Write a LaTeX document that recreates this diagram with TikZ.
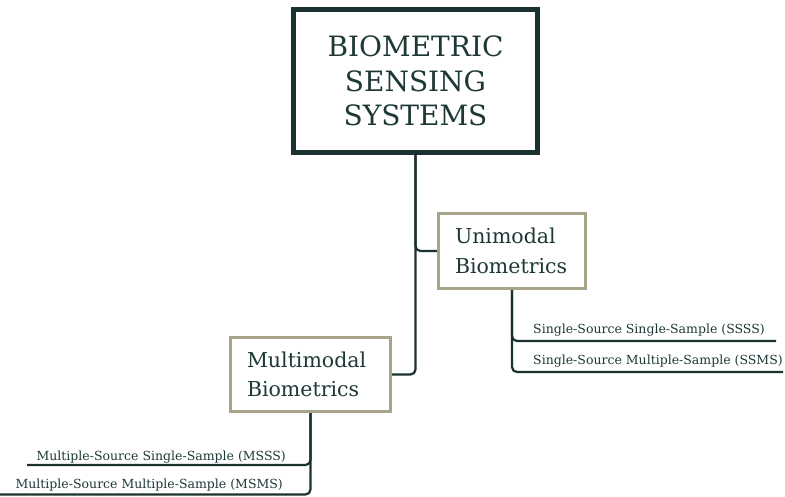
\documentclass[tikz,border=0pt]{standalone}
\usepackage{fontspec}
\setmainfont{DejaVu Serif}
\definecolor{inkteal}{HTML}{1D3836}
\definecolor{linedark}{HTML}{1B312F}
\definecolor{khaki}{HTML}{A8A48A}
\tikzset{
  rootbox/.style={draw=linedark, line width=5pt, fill=white, minimum width=244pt,
    minimum height=143pt, align=center, text=inkteal,
    font=\fontsize{28}{34.5}\selectfont},
  midbox/.style={draw=khaki, line width=3pt, fill=white, align=left, text=inkteal,
    font=\fontsize{20.5}{29.5}\selectfont, inner xsep=0pt},
  leaf/.style={text=inkteal, font=\fontsize{12.5}{14}\selectfont, inner sep=0pt},
  conn/.style={draw=linedark, line width=2.2pt, rounded corners=5pt},
}
\begin{document}
\begin{tikzpicture}[x=1pt,y=-1pt]
  \useasboundingbox (0,0) rectangle (785,496);
  % top node
  \node[rootbox] (root) at (415.5,81) {BIOMETRIC\\SENSING\\SYSTEMS};
  % second level
  \node[midbox, minimum width=147pt, minimum height=75pt, text width=114pt] (uni) at (512,251)
    {Unimodal\\Biometrics};
  \node[midbox, minimum width=160pt, minimum height=74pt, text width=127pt] (multi) at (310.5,374.5)
    {Multimodal\\Biometrics};
  % leaves of the unimodal branch
  \node[leaf, anchor=base west] (ssss) at (533,333) {Single-Source Single-Sample (SSSS)};
  \node[leaf, anchor=base west] (ssms) at (533,364) {Single-Source Multiple-Sample (SSMS)};
  \coordinate (ssssend) at (776,341);
  \coordinate (ssmsend) at (783,372);
  % leaves of the multimodal branch
  \node[leaf, anchor=base east] (msss) at (286,460) {Multiple-Source Single-Sample (MSSS)};
  \node[leaf, anchor=base east] (msms) at (283,488) {Multiple-Source Multiple-Sample (MSMS)};
  \coordinate (msssend) at (27,465);
  \coordinate (msmsend) at (0,494.5);
  % connectors
  \draw[conn] (root.south) |- (uni.west);
  \draw[conn] (root.south) |- (multi.east);
  \draw[conn] (uni.south) |- (ssssend);
  \draw[conn] (uni.south) |- (ssmsend);
  \draw[conn] (multi.south) |- (msssend);
  \draw[conn] (multi.south) |- (msmsend);
\end{tikzpicture}
\end{document}
